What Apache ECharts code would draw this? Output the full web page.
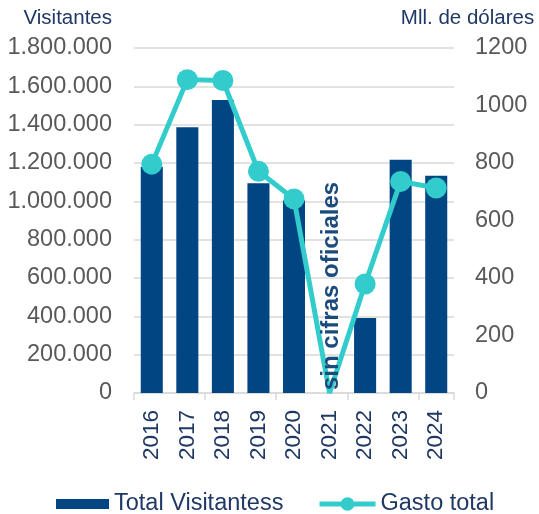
<!DOCTYPE html>
<html>
<head>
<meta charset="utf-8">
<script src="https://cdn.jsdelivr.net/npm/echarts@6/dist/echarts.min.js"></script>
<style>
html,body{margin:0;padding:0;background:#fff;}
#chart{width:539px;height:514px;}
</style>
</head>
<body>
<div id="chart"></div>
<script>
var years = ['2016','2017','2018','2019','2020','2021','2022','2023','2024'];
var visitantes = [1180000, 1386000, 1529000, 1094000, 1005000, null, 391000, 1217000, 1134000];
var gasto = [796, 1090, 1087, 771, 675, 0, 379, 736, 713];
var leftTicks = [0, 200000, 400000, 600000, 800000, 1000000, 1200000, 1400000, 1600000, 1800000];
var rightTicks = [0, 200, 400, 600, 800, 1000, 1200];
var annotation = 'sin cifras oficiales';
var annotationYear = '2021';

var FONT = '"Liberation Sans", Arial, sans-serif';
var NAVY = '#1F3864';
var GRAY = '#595959';
var BAR = '#014582';
var TEAL = '#33CCCC';

function fmtDots(v){
  return String(v).replace(/\B(?=(\d{3})+(?!\d))/g, '.');
}

var gastoData = gasto.map(function(v, i){
  return years[i] === annotationYear ? {value: v, symbol: 'none'} : v;
});

var chart = echarts.init(document.getElementById('chart'), null, {renderer:'canvas'});
var option = {
  animation: false,
  backgroundColor: '#ffffff',
  textStyle: {fontFamily: FONT},
  grid: {left: 134, right: 85, top: 48, bottom: 121, containLabel: false},
  legend: [
    {
      data: [{name: 'Total Visitantess', icon: 'rect'}],
      left: 56, top: 492, padding: 0,
      itemWidth: 53, itemHeight: 10, itemGap: 5,
      textStyle: {color: NAVY, fontSize: 23.5, fontFamily: FONT}
    },
    {
      data: ['Gasto total'],
      left: 317, top: 492, padding: 0,
      itemWidth: 56, itemHeight: 17, itemGap: 3,
      lineStyle: {width: 5, color: TEAL},
      textStyle: {color: NAVY, fontSize: 23.5, fontFamily: FONT}
    }
  ],
  xAxis: {
    type: 'category',
    data: years,
    boundaryGap: true,
    axisLine: {lineStyle: {color: '#D9D9D9', width: 1.5}},
    axisTick: {show: true, interval: 1, length: 7, lineStyle: {color: '#D9D9D9', width: 1.5}},
    axisLabel: {rotate: 90, margin: 17, color: NAVY, fontSize: 22.5, fontFamily: FONT, interval: 0},
    splitLine: {show: false}
  },
  yAxis: [
    {
      type: 'value',
      min: leftTicks[0], max: leftTicks[leftTicks.length-1], interval: leftTicks[1]-leftTicks[0],
      name: 'Visitantes',
      nameLocation: 'end',
      nameGap: 19,
      nameTextStyle: {color: NAVY, fontSize: 20.5, fontFamily: FONT, align: 'right', padding: [0, 22, 0, 0]},
      axisLine: {show: false},
      axisTick: {show: false},
      axisLabel: {color: GRAY, fontSize: 23.5, fontFamily: FONT, margin: 22, formatter: function(v){return fmtDots(v);}},
      splitLine: {show: true, lineStyle: {color: '#D9D9D9', width: 1.5}}
    },
    {
      type: 'value',
      min: rightTicks[0], max: rightTicks[rightTicks.length-1], interval: rightTicks[1]-rightTicks[0],
      name: 'Mll. de dólares',
      nameLocation: 'end',
      nameGap: 19,
      nameTextStyle: {color: NAVY, fontSize: 20.5, fontFamily: FONT, align: 'center', padding: [0, 0, 0, 27]},
      axisLine: {show: false},
      axisTick: {show: false},
      axisLabel: {color: GRAY, fontSize: 23.5, fontFamily: FONT, margin: 21, formatter: function(v){return String(v);}},
      splitLine: {show: false}
    }
  ],
  series: [
    {
      name: 'Total Visitantess',
      type: 'bar',
      data: visitantes,
      yAxisIndex: 0,
      barCategoryGap: '38%',
      itemStyle: {color: BAR},
      z: 2
    },
    {
      name: 'Gasto total',
      type: 'line',
      data: gastoData,
      yAxisIndex: 1,
      symbol: 'circle',
      symbolSize: 21,
      lineStyle: {color: TEAL, width: 5},
      itemStyle: {color: TEAL},
      z: 3
    }
  ]
};
chart.setOption(option);

var p = chart.convertToPixel({xAxisIndex: 0, yAxisIndex: 0}, [annotationYear, 0]);
chart.setOption({
  graphic: [{
    type: 'text',
    x: p[0] + 2,
    y: p[1] - 3,
    rotation: Math.PI / 2,
    z: 10,
    style: {
      text: annotation,
      fill: '#1B4A7C',
      font: 'bold 24px ' + FONT,
      textAlign: 'left',
      textVerticalAlign: 'middle'
    }
  }]
});
</script>
</body>
</html>
